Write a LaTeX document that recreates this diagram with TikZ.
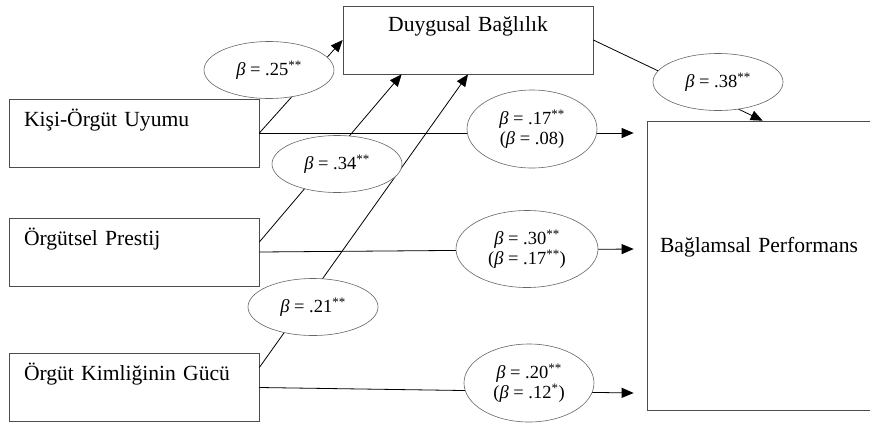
\documentclass[tikz,border=0pt]{standalone}
\usepackage{fontspec}
\setmainfont{Liberation Serif}
\usetikzlibrary{positioning,shapes.geometric,arrows.meta}
\newcommand{\bb}{{\itshape β}}
\newcommand{\sig}[1]{\textsuperscript{#1}}

\begin{document}
\begin{tikzpicture}[x=1pt,y=-1pt,
      varbox/.style={
        draw=black!70,
        fill=white,
        line width=0.7pt,
        minimum height=68pt,
        text width=220pt,
        inner xsep=15pt,
        align=left,
        font=\fontsize{21.6}{25}\selectfont
      },
      coefnode/.style={
        ellipse,
        draw=black!60,
        fill=white,
        line width=0.6pt,
        minimum width=130pt,
        minimum height=57pt,
        inner sep=0pt,
        align=center,
        font=\fontsize{18.5}{20}\selectfont
      },
      arrow/.style={-{Triangle[length=12pt,width=10pt]},line width=0.8pt}
    ]
      \useasboundingbox[fill=white] (0,0) rectangle (870,424);
      \node[varbox] (kisi) at (134,133) {Kişi-Örgüt Uyumu\\[6pt]\mbox{}};
      \node[varbox] (prest) at (134,252) {Örgütsel Prestij\\[6pt]\mbox{}};
      \node[varbox] (kiml) at (134,387.5) {Örgüt Kimliğinin Gücü\\[6pt]\mbox{}};
      \node[varbox,align=center] (duyg) at (468,40) {Duygusal Bağlılık\\[6pt]\mbox{}};
      \node[varbox,minimum height=289pt,text width=207pt,inner xsep=13pt] (perf) at (763.5,265.5)
        {Bağlamsal Performans\\[17pt]\mbox{}};
      \draw[arrow] (kisi.east) -- (duyg.west);
      \draw[arrow] (kisi.east) -- ([xshift=-13pt,yshift=132.5pt]perf.west);
      \draw[arrow] ([yshift=10pt]prest.east) -- ([xshift=59pt]duyg.south west);
      \draw[arrow] (prest.east) -- ([xshift=-13pt,yshift=16.5pt]perf.west);
      \draw[arrow] ([yshift=20pt]kiml.east) -- (duyg.south);
      \draw[arrow] (kiml.east) -- ([xshift=-13pt,yshift=-127.5pt]perf.west);
      \draw[arrow] (duyg.east) -- ([xshift=116pt]perf.north west);
      \node[coefnode] (c1) at (269,70) {\bb{} = .25\sig{**}};
      \node[coefnode] (c2) at (337,164) {\bb{} = .34\sig{**}};
      \node[coefnode] (c3) at (313,307) {\bb{} = .21\sig{**}};
      \node[coefnode] (c4) at (718,82) {\bb{} = .38\sig{**}};
      \node[coefnode,minimum height=78pt] (c5) at (532,129) {\bb{} = .17\sig{**}\\(\bb{} = .08)};
      \node[coefnode,minimum width=142pt,minimum height=77pt] (c6) at (527,249)
        {\bb{} = .30\sig{**}\\(\bb{} = .17\sig{**})};
      \node[coefnode,minimum height=78pt] (c7) at (529,383) {\bb{} = .20\sig{**}\\(\bb{} = .12\sig{*})};
    \end{tikzpicture}
\end{document}
